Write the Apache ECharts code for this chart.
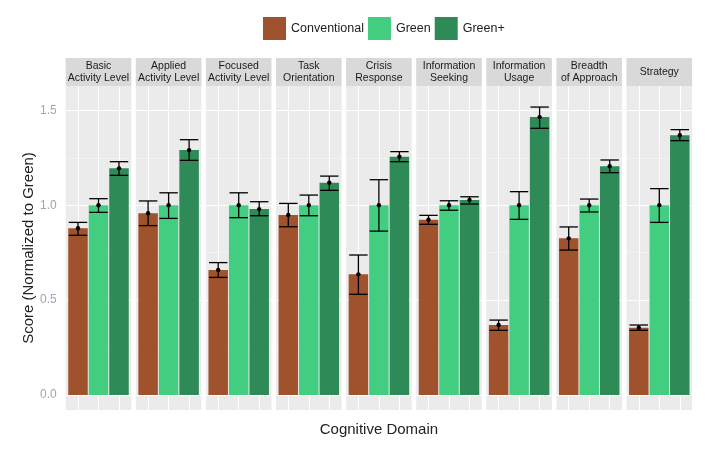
<!DOCTYPE html>
<html><head><meta charset="utf-8">
<script src="https://cdn.jsdelivr.net/npm/echarts@6/dist/echarts.min.js"></script>
<style>html,body{margin:0;padding:0;background:#fff}#c{width:720px;height:450px}</style>
</head><body><div id="c"></div>
<script>
// ---- data ----
const domains = ['Basic\nActivity Level','Applied\nActivity Level','Focused\nActivity Level','Task\nOrientation','Crisis\nResponse','Information\nSeeking','Information\nUsage','Breadth\nof Approach','Strategy'];
const groups = ['Conventional','Green','Green+'];
const conventionalMean = [0.879, 0.958, 0.659, 0.949, 0.636, 0.924, 0.369, 0.826, 0.355];
const conventionalLow  = [0.842, 0.893, 0.620, 0.887, 0.531, 0.900, 0.341, 0.764, 0.341];
const conventionalHigh = [0.910, 1.023, 0.698, 1.010, 0.738, 0.947, 0.395, 0.886, 0.369];
const greenMean = [1.0, 1.0, 1.0, 1.0, 1.0, 1.0, 1.0, 1.0, 1.0];
const greenLow  = [0.963, 0.931, 0.935, 0.945, 0.864, 0.974, 0.926, 0.965, 0.910];
const greenHigh = [1.035, 1.066, 1.066, 1.054, 1.135, 1.024, 1.072, 1.033, 1.088];
const greenPlusMean = [1.195, 1.291, 0.980, 1.119, 1.256, 1.028, 1.465, 1.206, 1.369];
const greenPlusLow  = [1.158, 1.237, 0.945, 1.079, 1.230, 1.007, 1.406, 1.172, 1.341];
const greenPlusHigh = [1.230, 1.346, 1.019, 1.154, 1.283, 1.045, 1.518, 1.239, 1.399];
const yTicks = [0, 0.5, 1.0, 1.5];
const yMinorTicks = [0.25, 0.75, 1.25];
const yMin = -0.079, yMax = 1.629;

// ---- style / layout ----
const colors = ['#A0522D', '#43CD80', '#2E8B57'];
const FONT = 'Liberation Sans, Arial, Helvetica, sans-serif';
const L0 = 65.7, PITCH = 70.1, PW = 65.6, TOP = 86, BOT = 410, STRIP = 28, LH = 12;
const XMIN = 0.4, XMAX = 3.6;
const unitPx = PW / (XMAX - XMIN);
const barW = unitPx - 1;
const CAP = 0.9;

const means = [conventionalMean, greenMean, greenPlusMean];
const lows = [conventionalLow, greenLow, greenPlusLow];
const highs = [conventionalHigh, greenHigh, greenPlusHigh];

const grid = [], xAxis = [], yAxis = [], series = [];
domains.forEach((d, i) => {
  grid.push({left: L0 + i * PITCH, top: TOP, width: PW, height: BOT - TOP, show: true,
    backgroundColor: '#ebebeb', borderWidth: 0, containLabel: false, outerBoundsMode: 'none'});
  xAxis.push({type: 'value', gridIndex: i, min: XMIN, max: XMAX,
    axisLine: {show: false}, axisTick: {show: false, customValues: [1, 2, 3]},
    axisLabel: {show: false}, splitLine: {show: true, lineStyle: {color: '#ffffff', width: 1.1}}});
  const lines = d.split('\n').length;
  const pad = (STRIP - lines * LH) / 2;
  xAxis.push({type: 'category', gridIndex: i, position: 'top', data: [d],
    axisLine: {show: false}, axisTick: {show: false}, splitLine: {show: false},
    axisLabel: {show: true, interval: 0, margin: 0, fontFamily: FONT, fontSize: 10.5, color: '#1a1a1a',
      lineHeight: LH, backgroundColor: '#d9d9d9', width: PW, padding: [pad, 0, pad, 0], align: 'center'}});
  yAxis.push({type: 'value', gridIndex: i, min: yMin, max: yMax,
    axisLine: {show: false}, axisTick: {show: false, customValues: yTicks},
    axisLabel: i === 0 ? {show: true, customValues: yTicks, formatter: v => v.toFixed(1), color: '#9ea6b3',
      fontFamily: FONT, fontSize: 12, margin: 9} : {show: false},
    splitLine: {show: true, lineStyle: {color: '#ffffff', width: 1.1}}});
  yAxis.push({type: 'value', gridIndex: i, min: yMin, max: yMax,
    axisLine: {show: false}, axisTick: {show: false, customValues: yMinorTicks}, axisLabel: {show: false},
    splitLine: {show: true, lineStyle: {color: '#f5f5f5', width: 0.7}}});
  groups.forEach((g, k) => {
    series.push({type: 'bar', name: g, xAxisIndex: 2 * i, yAxisIndex: 2 * i,
      data: [[k + 1, means[k][i]]], barWidth: barW, barGap: '-100%',
      itemStyle: {color: colors[k]}, z: 2});
  });
  series.push({type: 'custom', xAxisIndex: 2 * i, yAxisIndex: 2 * i, z: 5,
    data: groups.map((g, k) => [k + 1, lows[k][i], highs[k][i], means[k][i]]),
    encode: {x: 0, y: [1, 2]},
    renderItem: (params, api) => {
      const x = api.value(0);
      const pLo = api.coord([x, api.value(1)]);
      const pHi = api.coord([x, api.value(2)]);
      const pM = api.coord([x, api.value(3)]);
      const hw = api.size([CAP, 0])[0] / 2;
      const st = {stroke: '#000', lineWidth: 1.3};
      return {type: 'group', children: [
        {type: 'line', shape: {x1: pLo[0], y1: pLo[1], x2: pHi[0], y2: pHi[1]}, style: st},
        {type: 'line', shape: {x1: pLo[0] - hw, y1: pLo[1], x2: pLo[0] + hw, y2: pLo[1]}, style: st},
        {type: 'line', shape: {x1: pHi[0] - hw, y1: pHi[1], x2: pHi[0] + hw, y2: pHi[1]}, style: st},
        {type: 'circle', shape: {cx: pM[0], cy: pM[1], r: 2.2}, style: {fill: '#000'}}
      ]};
    }});
});

const panelsCenterX = L0 + (PITCH * (domains.length - 1) + PW) / 2;
const option = {
  animation: false,
  backgroundColor: '#ffffff',
  textStyle: {fontFamily: FONT},
  legend: {data: groups, left: 258, top: 12, icon: 'rect', itemWidth: 23, itemHeight: 23, itemGap: 4,
    textStyle: {fontFamily: FONT, fontSize: 12.5, color: '#222'}},
  graphic: [
    {type: 'text', x: panelsCenterX, y: 430, style: {text: 'Cognitive Domain', textAlign: 'center',
      textVerticalAlign: 'middle', fontFamily: FONT, fontSize: 15, fill: '#222'}},
    {type: 'text', x: 29, y: (TOP + BOT) / 2, rotation: Math.PI / 2, style: {text: 'Score (Normalized to Green)',
      textAlign: 'center', textVerticalAlign: 'middle', fontFamily: FONT, fontSize: 15, fill: '#222'}}
  ],
  grid, xAxis, yAxis, series
};
const chart = echarts.init(document.getElementById('c'), null, {renderer: 'canvas'});
chart.setOption(option);
</script></body></html>
